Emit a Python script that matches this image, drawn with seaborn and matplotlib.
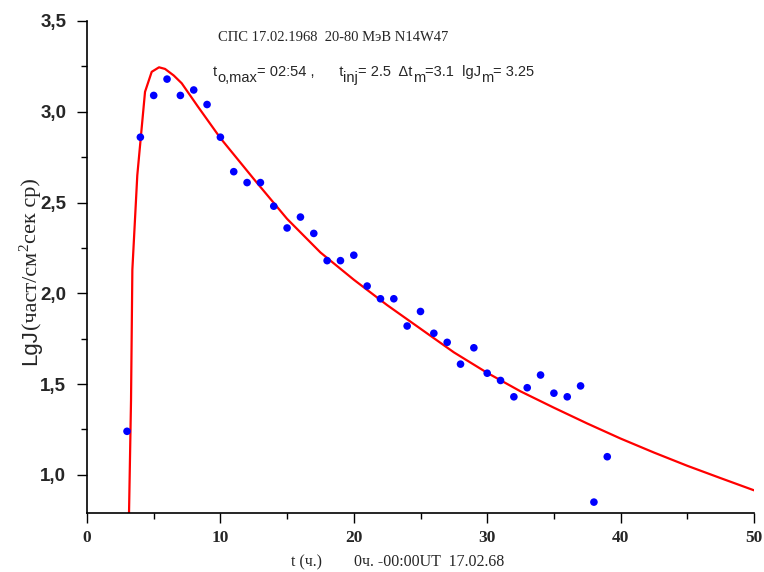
import matplotlib
matplotlib.use("Agg")
import matplotlib.pyplot as plt
import seaborn as sns
import pandas as pd
from matplotlib.ticker import MultipleLocator, FuncFormatter

# observed points
t_obs = [3, 4, 5, 6, 7, 8, 9, 10, 11, 12, 13, 14, 15, 16, 17, 18, 19, 20,
         21, 22, 23, 24, 25, 26, 27, 28, 29, 30, 31, 32, 33, 34, 35, 36, 37, 38, 39]
lgj_obs = [1.24, 2.86, 3.09, 3.18, 3.09, 3.12, 3.04, 2.86, 2.67, 2.61, 2.61, 2.48,
           2.36, 2.42, 2.33, 2.18, 2.18, 2.21, 2.04, 1.97, 1.97, 1.82, 1.90, 1.78,
           1.73, 1.61, 1.70, 1.56, 1.52, 1.43, 1.48, 1.55, 1.45, 1.43, 1.49, 0.85, 1.10]

# model curve
t_fit = [3.1, 3.15, 3.3, 3.4, 3.77, 4.35, 4.85, 5.4, 5.85, 6.5, 7.1, 8.3, 10,
         12.5, 15, 17.5, 20, 22.5, 25, 27.5, 30, 32.5, 35, 37.5, 40, 42.5, 45, 47.5, 50]
lgj_fit = [0.6, 0.79, 1.41, 2.13, 2.65, 3.11, 3.22, 3.245, 3.236, 3.20, 3.157,
           3.03, 2.855, 2.63, 2.41, 2.225, 2.075, 1.935, 1.805, 1.675, 1.562, 1.46,
           1.37, 1.283, 1.20, 1.123, 1.05, 0.982, 0.915]

x_ticks = [0, 10, 20, 30, 40, 50]
y_ticks = [1.0, 1.5, 2.0, 2.5, 3.0, 3.5]

title_line = "СПС 17.02.1968  20-80 МэВ N14W47"
# (text, is_subscript)
param_pieces = [("t", False), ("o,max", True), ("= 02:54 ,      t", False),
                ("inj", True), ("= 2.5  Δt", False), ("m", True),
                ("=3.1  lgJ", False), ("m", True), ("= 3.25", False)]
xlabel = "t (ч.)        0ч. -00:00UT  17.02.68"
# y label pieces: (text, family, superscript)
ylabel_pieces = [("LgJ", "Liberation Sans", False), ("(част/см", "Liberation Serif", False),
                 ("2", "Liberation Serif", True), ("сек ср)", "Liberation Serif", False)]

W, H = 764, 572
sns.set_style("ticks")
plt.rcParams['font.family'] = ['Liberation Sans', 'DejaVu Sans']

fig = plt.figure(figsize=(W / 100, H / 100), dpi=100)
ax = fig.add_axes([87 / W, 1 - 513 / H, (754 - 87) / W, (513 - 21) / H])

obs = pd.DataFrame({"t": t_obs, "lgj": lgj_obs})
fit = pd.DataFrame({"t": t_fit, "lgj": lgj_fit})

sns.lineplot(data=fit, x="t", y="lgj", ax=ax, color="#ff0000", linewidth=1.6,
             sort=False, estimator=None)
sns.scatterplot(data=obs, x="t", y="lgj", ax=ax, color="#0000ff", s=30,
                edgecolor="none", zorder=3)

ax.set_xlim(0, 50)
ax.set_ylim(0.79, 3.5)
ax.set_xticks(x_ticks)
ax.set_yticks(y_ticks)
ax.xaxis.set_minor_locator(MultipleLocator(5))
ax.yaxis.set_minor_locator(MultipleLocator(0.25))
ax.yaxis.set_major_formatter(FuncFormatter(lambda v, p: f"{v:.1f}".replace(".", ",")))
ax.tick_params(axis="both", which="major", direction="out", length=7, width=1, color="black")
ax.tick_params(axis="both", which="minor", direction="out", length=4, width=1, color="black")
ax.tick_params(axis="y", which="major", pad=8)
ax.tick_params(axis="x", which="major", pad=5)

for lab in ax.get_yticklabels():
    lab.set_fontfamily("Liberation Sans")
    lab.set_fontweight("bold")
    lab.set_fontsize(13.5)
for lab in ax.get_xticklabels():
    lab.set_fontfamily("Liberation Serif")
    lab.set_fontweight("bold")
    lab.set_fontsize(12.5)

for s in ["top", "right"]:
    ax.spines[s].set_visible(False)
for s in ["left", "bottom"]:
    ax.spines[s].set_color("black")
    ax.spines[s].set_linewidth(1.2)
ax.set_xlabel("")
ax.set_ylabel("")

renderer = fig.canvas.get_renderer()

# title line
fig.text(218 / W, 1 - 41 / H, title_line, fontfamily="Liberation Serif",
         fontsize=10.5, va="baseline", ha="left")

# parameter line with subscripts, laid out sequentially
xpos = 213.0
for txt, sub in param_pieces:
    yb = 82 if sub else 76
    t = fig.text(xpos / W, 1 - yb / H, txt, fontfamily="Liberation Sans",
                 fontsize=10.5, va="baseline", ha="left")
    xpos += t.get_window_extent(renderer).width

# x label
fig.text(398 / W, 1 - 566 / H, xlabel, fontfamily="Liberation Serif",
         fontsize=11.5, va="baseline", ha="center")

# rotated y label assembled from pieces
ypos = 365.0
xbase = 36.0
for txt, fam, sup in ylabel_pieces:
    fs = 11 if sup else 16
    xb = xbase - 8 if sup else xbase
    t = fig.text(xb / W, 1 - ypos / H, txt, fontfamily=fam, fontsize=fs,
                 rotation=90, rotation_mode="anchor", ha="left", va="baseline")
    bb = t.get_window_extent(renderer)
    ypos -= bb.height

fig.savefig("out.png", dpi=100)
